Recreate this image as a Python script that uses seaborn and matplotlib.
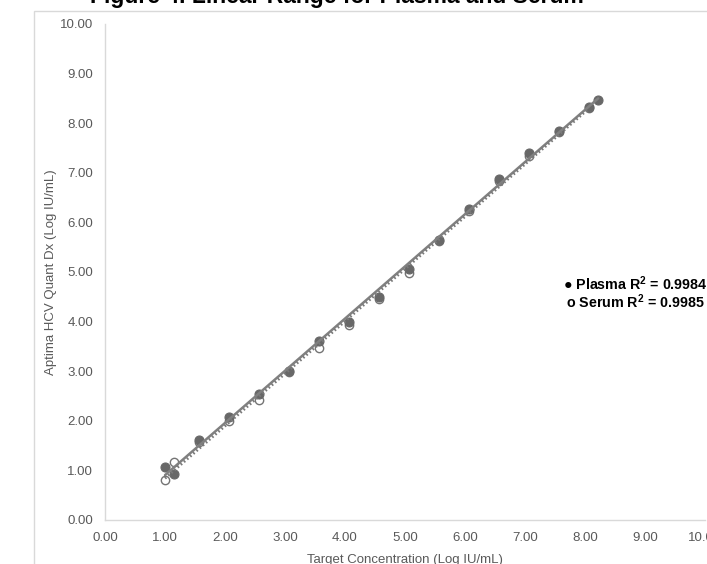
"""
Figure 4 - linear range for plasma and serum (scatter + linear trendlines)
"""

import numpy as np
import pandas as pd
import matplotlib
matplotlib.use('Agg')
import matplotlib.pyplot as plt
from matplotlib.patches import Rectangle
import seaborn as sns

# 数据
plasma_x = [1.00, 1.15, 1.56, 2.06, 2.56, 3.06, 3.56, 4.06, 4.56, 5.06,
            5.56, 6.06, 6.56, 7.06, 7.56, 8.06, 8.22]
plasma_y = [1.07, 0.92, 1.62, 2.08, 2.55, 3.00, 3.61, 4.00, 4.50, 5.06,
            5.64, 6.28, 6.88, 7.40, 7.85, 8.33, 8.46]

serum_x = [1.00, 1.15, 1.56, 2.06, 2.56, 3.06, 3.56, 4.06, 4.56, 5.06,
           5.56, 6.06, 6.56, 7.06, 7.56, 8.06]
serum_y = [0.80, 1.17, 1.58, 1.99, 2.42, 2.98, 3.47, 3.94, 4.45, 4.97,
           5.62, 6.22, 6.83, 7.33, 7.83, 8.30]

axis_ticks = [0, 1, 2, 3, 4, 5, 6, 7, 8, 9, 10]
tick_labels = ['0.00', '1.00', '2.00', '3.00', '4.00', '5.00',
               '6.00', '7.00', '8.00', '9.00', '10.00']

title_text = 'Figure 4. Linear Range for Plasma and Serum'
x_label = 'Target Concentration (Log IU/mL)'
y_label = 'Aptima HCV Quant Dx (Log IU/mL)'
plasma_note = '\u25cf Plasma R$^{\\mathbf{2}}$ = 0.9984'
serum_note = 'o Serum R$^{\\mathbf{2}}$ = 0.9985'

plasma_df = pd.DataFrame({'target': plasma_x, 'measured': plasma_y})
serum_df = pd.DataFrame({'target': serum_x, 'measured': serum_y})

# 样式
sns.set_theme(style='white')
plt.rcParams['font.family'] = ['Liberation Sans', 'DejaVu Sans']
plt.rcParams['mathtext.fontset'] = 'custom'
plt.rcParams['mathtext.rm'] = 'Liberation Sans'
plt.rcParams['mathtext.bf'] = 'Liberation Sans:bold'

W, H = 707, 564
fig = plt.figure(figsize=(W / 100, H / 100), dpi=100)
ax = fig.add_axes([105 / W, 1 - 520 / H, 600 / W, 496 / H])

point_grey = '#686868'
line_grey = '#808080'

# points
sns.scatterplot(data=plasma_df, x='target', y='measured', ax=ax,
                color=point_grey, edgecolor=point_grey, s=42, linewidth=0.8,
                zorder=3)
sns.scatterplot(data=serum_df, x='target', y='measured', ax=ax,
                facecolor='white', edgecolor='#747474', s=36, linewidth=1.0,
                zorder=2)

# trendlines
sns.regplot(data=plasma_df, x='target', y='measured', ax=ax, scatter=False,
            ci=None, color=line_grey, line_kws={'lw': 1.8, 'zorder': 4})
sns.regplot(data=serum_df, x='target', y='measured', ax=ax, scatter=False,
            ci=None, color='#7a7a7a',
            line_kws={'lw': 2.0, 'linestyle': (0, (0.6, 0.9)), 'zorder': 4})

ax.set_xlim(0, 10)
ax.set_ylim(0, 10)
ax.set_xticks(axis_ticks)
ax.set_xticklabels(tick_labels)
ax.set_yticks(axis_ticks)
ax.set_yticklabels(tick_labels)
ax.tick_params(axis='both', length=0, pad=8.5, labelsize=9.5,
               labelcolor='#595959')

for side in ['top', 'right']:
    ax.spines[side].set_visible(False)
for side in ['left', 'bottom']:
    ax.spines[side].set_color('#d9d9d9')
    ax.spines[side].set_linewidth(1.0)

ax.set_xlabel(x_label, fontsize=9.5, color='#595959', labelpad=7.5)
ax.set_ylabel(y_label, fontsize=9.5, color='#595959', labelpad=2)

# outer chart frame
fig.add_artist(Rectangle((34 / W, -0.2), 1.2, 1 - 11 / H + 0.2,
                         transform=fig.transFigure, fill=False,
                         edgecolor='#d9d9d9', lw=1.0))

# 标题 (cut at the top edge as in the source image)
fig.text(337 / W, 1 - 3 / H, title_text, ha='center', va='baseline',
         fontsize=16.5, fontweight='bold', color='black')

fig.text(563 / W, 1 - 284 / H, plasma_note, ha='left', va='center',
         fontsize=10.3, fontweight='bold', color='black')
fig.text(566 / W, 1 - 302 / H, serum_note, ha='left', va='center',
         fontsize=10.3, fontweight='bold', color='black')

fig.savefig('out.png', dpi=100)
